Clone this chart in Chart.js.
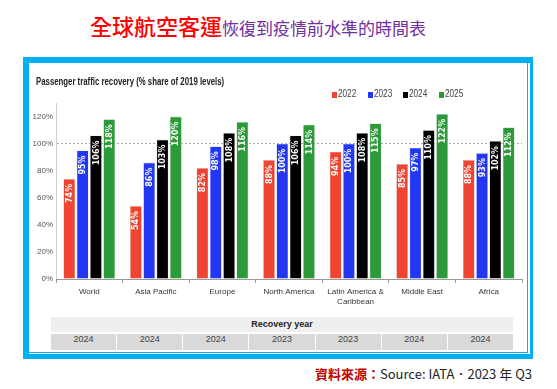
<!DOCTYPE html>
<html>
<head>
<meta charset="utf-8">
<script src="https://cdn.jsdelivr.net/npm/chart.js@4.4.0/dist/chart.umd.min.js"></script>
<style>
  body { margin: 0; width: 557px; height: 389px; background: #fff; position: relative; overflow: hidden;
         font-family: 'Liberation Sans', Arial, sans-serif; }
  #head { position: absolute; left: 0; top: 14px; width: 516px; text-align: center; white-space: nowrap;
          font-family: 'Noto Sans CJK TC', sans-serif; line-height: 1; }
  #head .r { color: #ff0000; font-size: 22px; font-weight: 500; }
  #head .p { color: #7030a0; font-size: 17px; }
  #frame { position: absolute; left: 23px; top: 57px; width: 510px; height: 302px; background: #00b0f0; }
  #inner { position: absolute; left: 29px; top: 63px; width: 501px; height: 291px; background: #fff; }
  #line { position: absolute; left: 29px; top: 63px; width: 498px; height: 289px;
          border-right: 1px solid #00b0f0; border-bottom: 1px solid #00b0f0; }
  #wrap { position: absolute; left: 29px; top: 63px; width: 498px; height: 250px; }
  #ctitle { position: absolute; left: 36px; top: 76px; font: bold 10px 'Liberation Sans', Arial, sans-serif; color: #222;
            white-space: nowrap; transform: scaleX(0.78); transform-origin: 0 0; }
  #legend { position: absolute; top: 88px; left: 332px; font-size: 10px; color: #444; white-space: nowrap; }
  #legend span.i { display: inline-block; width: 35.5px; }
  #legend span.t { display: inline-block; transform: scaleX(0.82); transform-origin: 0 50%; }
  #legend span.b { display: inline-block; width: 5px; height: 6px; margin-right: 1px; vertical-align: -1px; }
  #rec { position: absolute; left: 51px; top: 317px; width: 462px; height: 15px; background: #efefef;
         text-align: center; font: bold 9px 'Liberation Sans', Arial, sans-serif; line-height: 15px; color: #222; }
  #years { position: absolute; left: 51px; top: 334px; width: 462px; height: 16px; display: flex; }
  #years div { flex: 1; background: #d9d9d9; margin-right: 1px; text-align: center; line-height: 16px;
               font: 9px 'Liberation Sans', Arial, sans-serif; color: #444; }
  #years div:last-child { margin-right: 0; }
  #src { position: absolute; right: 25px; top: 367px; font-size: 13px; color: #222; white-space: nowrap;
         font-family: 'Noto Sans CJK TC', sans-serif; line-height: 1; }
  #src .r { color: #c00000; font-weight: bold; }
</style>
</head>
<body>
<div id="head"><span class="r">全球航空客運</span><span class="p">恢復到疫情前水準的時間表</span></div>
<div id="frame"></div>
<div id="inner"></div>
<div id="line"></div>
<div id="wrap"><canvas id="c"></canvas></div>
<div id="ctitle">Passenger traffic recovery (% share of 2019 levels)</div>
<div id="legend"></div>
<div id="rec">Recovery year</div>
<div id="years"></div>
<div id="src"><span class="r">資料來源：</span>Source: IATA．2023 年 Q3</div>
<script>
// data
const regions = ['World', 'Asia Pacific', 'Europe', 'North America', ['Latin America &', 'Caribbean'], 'Middle East', 'Africa'];
const years = ['2022', '2023', '2024', '2025'];
const v2022 = [74, 54, 82, 88, 94, 85, 88];
const v2023 = [95, 86, 98, 100, 100, 97, 93];
const v2024 = [106, 103, 108, 106, 108, 110, 102];
const v2025 = [118, 120, 116, 114, 115, 122, 112];
const recoveryYear = ['2024', '2024', '2024', '2023', '2023', '2024', '2024'];
const colors = ['#ef4431', '#2336f2', '#000000', '#2d9a3a'];

const sans = "'Liberation Sans', Arial, sans-serif";

// legend + recovery year row
document.getElementById('legend').innerHTML = years.map((y, i) =>
  '<span class="i"><span class="b" style="background:' + colors[i] + '"></span><span class="t">' + y + '</span></span>').join('');
document.getElementById('years').innerHTML = recoveryYear.map(y => '<div>' + y + '</div>').join('');

// white rotated value labels inside the bars
const barLabels = {
  id: 'barLabels',
  afterDatasetsDraw(chart) {
    const ctx = chart.ctx;
    ctx.save();
    ctx.fillStyle = '#fff';
    ctx.font = "bold 8px 'DejaVu Sans', sans-serif";
    ctx.textAlign = 'right';
    ctx.textBaseline = 'middle';
    chart.data.datasets.forEach((ds, i) => {
      chart.getDatasetMeta(i).data.forEach((bar, j) => {
        ctx.save();
        ctx.translate(bar.x + 0.5, bar.y + 5);
        ctx.rotate(-Math.PI / 2);
        ctx.fillText(ds.data[j] + '%', 0, 0);
        ctx.restore();
      });
    });
    ctx.restore();
  }
};

const series = [v2022, v2023, v2024, v2025];

new Chart(document.getElementById('c'), {
  type: 'bar',
  data: {
    labels: regions,
    datasets: series.map((d, i) => ({
      label: years[i],
      data: d,
      backgroundColor: colors[i],
      borderColor: '#d8d8d8',
      borderWidth: 0.6,
      categoryPercentage: 0.8,
      barPercentage: 0.9
    }))
  },
  options: {
    responsive: true,
    maintainAspectRatio: false,
    animation: false,
    layout: { padding: { left: 4, right: 5, top: 40, bottom: 0 } },
    plugins: {
      legend: { display: false },
      tooltip: { enabled: false }
    },
    scales: {
      y: {
        min: 0, max: 130,
        ticks: {
          stepSize: 20,
          color: '#555',
          padding: 3,
          font: { family: sans, size: 8 },
          callback: v => v % 20 === 0 ? v + '%' : ''
        },
        grid: {
          drawTicks: false,
          color: c => c.tick && c.tick.value === 100 ? '#aaaaaa' : 'rgba(0,0,0,0)',
          lineWidth: 1
        },
        border: { display: true, color: '#cfcfcf', dash: [2, 2] },
        afterFit: s => { s.width = 23; }
      },
      x: {
        ticks: { color: '#333', padding: 4, font: { family: sans, size: 8 }, maxRotation: 0, autoSkip: false },
        grid: { offset: true, drawOnChartArea: false, drawTicks: true, tickLength: 4, color: '#999' },
        border: { display: true, color: '#999' },
        afterFit: s => { s.height = 34; }
      }
    }
  },
  plugins: [barLabels]
});
</script>
</body>
</html>
